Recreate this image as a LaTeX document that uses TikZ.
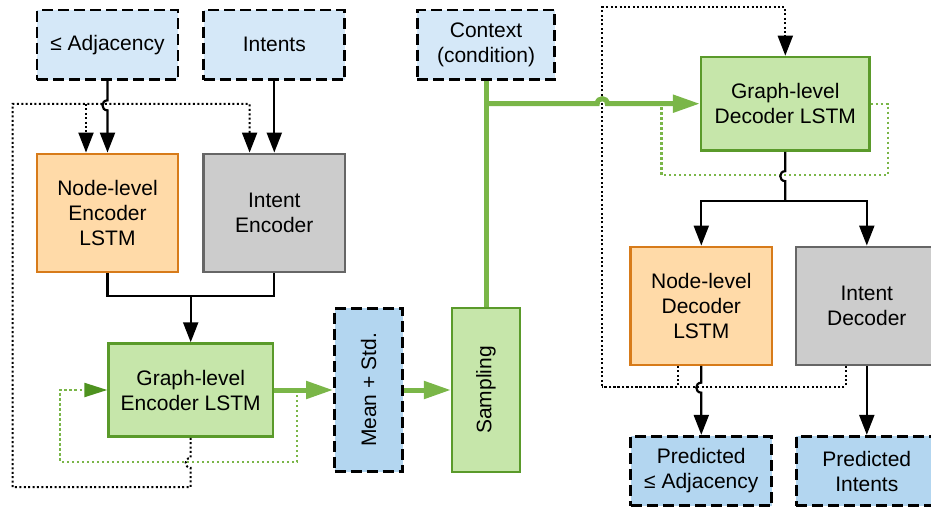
\documentclass[tikz,border=0pt]{standalone}
\usepackage{fontspec}
\setmainfont{Liberation Sans}
\usepackage{xcolor}
\usepackage{tikz}
\usetikzlibrary{arrows.meta,positioning,calc}

\definecolor{inblue}{HTML}{D5E8F8}
\definecolor{outblue}{HTML}{B3D6F0}
\definecolor{lstmfill}{HTML}{FFDAA8}
\definecolor{lstmdraw}{HTML}{D77B1A}
\definecolor{intfill}{HTML}{CCCCCC}
\definecolor{intdraw}{HTML}{666666}
\definecolor{gfill}{HTML}{C6E6AA}
\definecolor{gdraw}{HTML}{5A9A2A}
\definecolor{garr}{HTML}{7AB648}
\definecolor{ghead}{HTML}{4E921F}

\begin{document}
\begin{tikzpicture}[x=1pt, y=-1pt, font=\fontsize{21}{25}\selectfont]
    \tikzstyle{inbox} = [rectangle, minimum width=141pt, minimum height=69.5pt, align=center, draw=black, fill=inblue, line width=2.8pt, dash pattern=on 11pt off 5pt]
    \tikzstyle{outbox} = [inbox, fill=outblue]
    \tikzstyle{lstm} = [rectangle, minimum width=141.5pt, minimum height=118pt, align=center, draw=lstmdraw, fill=lstmfill, line width=2.3pt]
    \tikzstyle{intent} = [lstm, draw=intdraw, fill=intfill]
    \tikzstyle{glstm} = [rectangle, align=center, draw=gdraw, fill=gfill, line width=2.3pt]
    \tikzstyle{conn} = [line width=2.2pt]
    \tikzstyle{arrow} = [conn, -{Triangle[width=15pt,length=20pt]}]
    \tikzstyle{fbline} = [line width=2pt, dash pattern=on 2pt off 2.4pt]
    \tikzstyle{fback} = [fbline, -{Triangle[width=15pt,length=20pt]}]
    \tikzstyle{gline} = [line width=5pt, draw=garr]
    \tikzstyle{garrow} = [gline, -{Triangle[width=17pt,length=27pt]}]
    \tikzstyle{gloop} = [line width=2.2pt, draw=garr, dash pattern=on 2.2pt off 2.8pt]

    \useasboundingbox (0,0) rectangle (931,508);

    % encoder side
    \node (adj) [inbox] at (107.5,44.8) {≤ Adjacency};
    \node (intents) [inbox, right=23pt of adj] {Intents};
    \node (nenc) [lstm, below=71.6pt of adj] {Node-level\\Encoder\\LSTM};
    \node (ienc) [intent, below=71.6pt of intents] {Intent\\Encoder};
    \node (genc) [glstm, minimum width=164.5pt, minimum height=93.2pt] at (190.7,390) {Graph-level\\Encoder LSTM};
    \node (mstd) [outbox, minimum width=68pt, minimum height=163.5pt, right=59pt of genc] {\rotatebox{90}{Mean + Std.}};
    \node (samp) [glstm, minimum width=68pt, minimum height=163.5pt, right=47pt of mstd] {\rotatebox{90}{Sampling}};

    % decoder side
    \node (ctx) [inbox, minimum width=137.5pt] at (samp.center |- adj.center) {Context\\(condition)};
    \node (gdec) [glstm, minimum width=168.5pt, minimum height=93.8pt] at (785.3,103.7) {Graph-level\\Decoder LSTM};
    \node (ndec) [lstm] at (701.3,305.7) {Node-level\\Decoder\\LSTM};
    \node (idec) [intent, right=21.7pt of ndec] {Intent\\Decoder};
    \node (padj) [outbox, below=69pt of ndec] {Predicted\\≤ Adjacency};
    \node (pint) [outbox, below=69pt of idec] {Predicted\\Intents};

    \coordinate (efb) at (12.7,104);
    \coordinate (dfb) at (602.3,386.7);
    \coordinate (dtop) at (785.3,7.5);

    % green loops
    \draw [gloop, -{Triangle[width=14pt,length=23pt,color=ghead]}] ([xshift=23pt]genc.east) -- ++(0,71.7) -| ([xshift=-47.3pt]genc.west) -- (genc.west);
    \draw [gloop] (gdec.east) -- ++(17,0) -- ++(0,71.3) -| ([xshift=-38.5pt]gdec.west);

    % dotted feedback
    \draw [fback] (genc.south) -- ++(0,20.1) .. controls +(-6.7,0) and +(-6.7,0) .. ++(0,10) -- ++(0,19.3) -| (efb) -| ([xshift=-24.7pt]ienc.north);
    \draw [fback] ([xshift=-21.5pt]nenc.north |- efb) -- ([xshift=-21.5pt]nenc.north);
    \draw [fback] ([xshift=-23.6pt]ndec.south) |- (dfb) |- (dtop) -- (gdec.north);
    \draw [fbline] ([xshift=-21.2pt]idec.south) |- (dfb);

    % solid connectors
    \draw [arrow] (adj.south) -- ++(0,19.4) .. controls +(-6.7,0) and +(-6.7,0) .. ++(0,10) -- (nenc.north);
    \draw [arrow] (intents.south) -- (ienc.north);
    \draw [conn] (nenc.south) -- ++(0,23) coordinate (encjoin) -| (ienc.south);
    \draw [arrow] (encjoin -| genc.north) -- (genc.north);
    \draw [conn] (gdec.south) -- ++(0,19.4) .. controls +(-6.7,0) and +(-6.7,0) .. ++(0,10) -- ++(0,19.7) coordinate (decjoin);
    \draw [arrow] (decjoin) -| (ndec.north);
    \draw [arrow] (decjoin) -| (idec.north);
    \draw [arrow] (ndec.south) -- ++(0,16.8) .. controls +(-6.7,0) and +(-6.7,0) .. ++(0,10) -- (padj.north);
    \draw [arrow] (idec.south) -- (pint.north);

    % green flow
    \draw [garrow] (genc.east) -- (mstd.west);
    \draw [garrow] (mstd.east) -- (samp.west);
    \draw [gline] (samp.north) -- (ctx.south);
    \draw [garrow] (samp.north |- gdec.west) -- ++(111.2,0) .. controls +(0,-6.7) and +(0,-6.7) .. ++(10,0) -- (gdec.west);
\end{tikzpicture}
\end{document}
